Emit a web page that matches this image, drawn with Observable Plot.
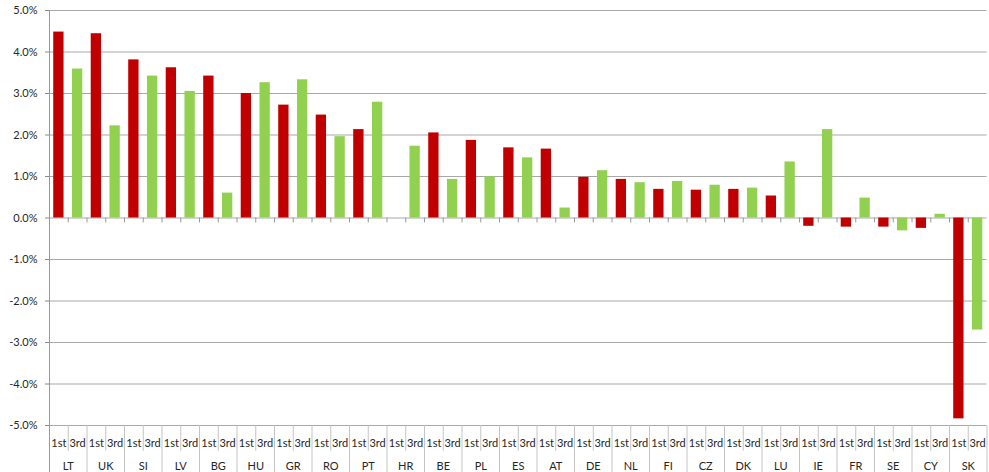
<!DOCTYPE html>
<html>
<head>
<meta charset="utf-8">
<script src="https://cdn.jsdelivr.net/npm/d3@7"></script>
<script src="https://cdn.jsdelivr.net/npm/@observablehq/plot@0.6"></script>
<style>
  html, body { margin: 0; padding: 0; background: #fff; }
  #chart svg { display: block; }
</style>
</head>
<body>
<div id="chart"></div>
<script>
const countries = ["LT","UK","SI","LV","BG","HU","GR","RO","PT","HR","BE","PL","ES","AT","DE","NL","FI","CZ","DK","LU","IE","FR","SE","CY","SK"];
const subLabels = ["1st", "3rd"];
const firstValues = [4.48,4.44,3.81,3.62,3.42,3.00,2.72,2.48,2.13,null,2.05,1.87,1.69,1.66,0.98,0.93,0.69,0.67,0.69,0.53,-0.20,-0.22,-0.22,-0.25,-4.84];
const thirdValues = [3.59,2.22,3.42,3.05,0.60,3.26,3.33,1.96,2.79,1.73,0.93,0.99,1.45,0.24,1.14,0.85,0.88,0.79,0.72,1.35,2.13,0.48,-0.31,0.09,-2.70];
const yTicks = [-5,-4,-3,-2,-1,0,1,2,3,4,5];
const colors = {"1st": "#C00000", "3rd": "#92D050"};

// Build slot table
const slots = [];
countries.forEach((c, ci) => {
  slots.push({i: ci * 2, country: c, sub: subLabels[0], value: firstValues[ci]});
  slots.push({i: ci * 2 + 1, country: c, sub: subLabels[1], value: thirdValues[ci]});
});
const n = slots.length;
const inner = d3.range(1, n);
const oddBounds = inner.filter(b => b % 2 === 1);
const evenBounds = d3.range(0, n + 1, 2);

const font = "Lato, 'Open Sans', sans-serif";

const chart = Plot.plot({
  width: 989,
  height: 472,
  marginLeft: 49,
  marginRight: 2.5,
  marginTop: 10,
  marginBottom: 47,
  style: {fontFamily: font, fontSize: "11px", color: "#262626", background: "#fff"},
  x: {type: "linear", domain: [0, n], axis: null},
  y: {domain: [-5, 5], axis: null},
  color: {domain: subLabels, range: subLabels.map(s => colors[s])},
  marks: [
    Plot.ruleY(yTicks, {stroke: "#a8a8a8", strokeWidth: 1.2}),
    Plot.axisY({ticks: yTicks, tickFormat: d => d.toFixed(1) + "%", tickSize: 4, tickPadding: 8, stroke: "#888", label: null, fontSize: 11, fill: "#262626"}),
    Plot.rectY(slots.filter(d => d.value != null), {
      x1: d => d.i + 0.225,
      x2: d => d.i + 0.775,
      y1: 0,
      y2: "value",
      fill: "sub"
    }),
    Plot.ruleX(inner, {x: d => d, y1: 0, y2: -0.12, stroke: "#999"}),
    Plot.ruleX(oddBounds, {x: d => d, y1: -5, y2: -5.62, stroke: "#c4c4c4"}),
    Plot.ruleX(evenBounds, {x: d => d, y1: -5, y2: -6.2, stroke: "#c4c4c4"}),
    Plot.ruleX([0], {y1: -5, y2: 5, stroke: "#999"}),
    Plot.ruleX([0], {y1: -5, y2: -6.2, stroke: "#999"}),
    Plot.text(slots, {x: d => d.i + 0.5, y: -5, dy: 18, text: "sub", fontSize: 11, fill: "#262626"}),
    Plot.text(countries, {x: (d, i) => 2 * i + 1, y: -5, dy: 41, text: d => d, fontSize: 11, fill: "#262626"})
  ]
});
document.getElementById("chart").appendChild(chart);
</script>
</body>
</html>
